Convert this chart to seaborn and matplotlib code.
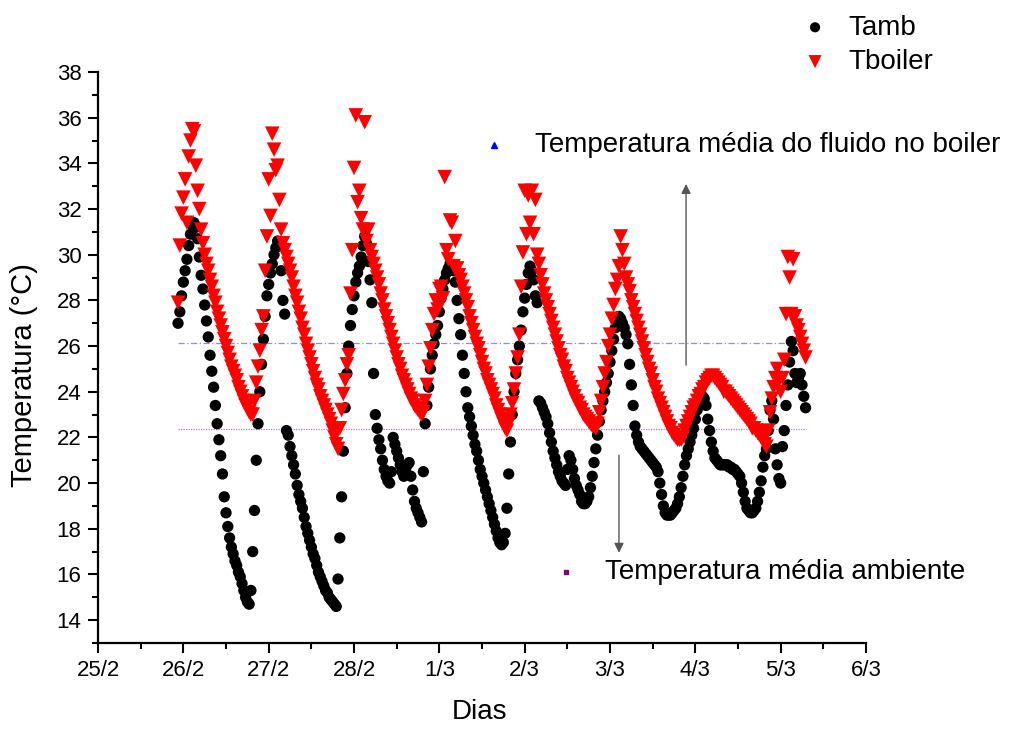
import numpy as np
import matplotlib
matplotlib.use("Agg")
import matplotlib.pyplot as plt
from matplotlib.ticker import MultipleLocator
import seaborn as sns

# ---- data ---------------------------------------------------------------
day_labels = ["25/2", "26/2", "27/2", "28/2", "1/3", "2/3", "3/3", "4/3", "5/3", "6/3"]

# logger: first sample at 25/2 22:30, one sample every 30 minutes
T_START = 0.9375        # days after 25/2 00:00
T_STEP = 1.0 / 48.0     # days

tamb = [
    27.0, 27.5, 28.2, 28.8, 29.3, 29.8, 30.4, 30.9, 31.3, 31.4,
    31.2, 30.7, 29.9, 29.1, 28.5, 27.8, 27.1, 26.4, 25.6, 24.9,
    24.2, 23.4, 22.6, 21.9, 21.2, 20.4, 19.4, 18.7, 18.1, 17.6,
    17.2, 16.9, 16.6, 16.4, 16.1, 15.9, 15.6, 15.3, 15.0, 14.8,
    14.7, 15.3, 17.0, 18.8, 21.0, 22.6, 24.0, 25.2, 26.3, 27.3,
    28.2, 28.7, 29.2, 29.6, 30.0, 30.3, 30.6, 30.4, 29.3, 28.0,
    27.4, 22.3, 22.1, 21.6, 21.2, 20.8, 20.4, 19.9, 19.5, 19.2,
    18.9, 18.5, 18.1, 17.8, 17.5, 17.2, 16.9, 16.7, 16.4, 16.1,
    15.9, 15.7, 15.5, 15.3, 15.2, 15.0, 14.9, 14.8, 14.7, 14.6,
    15.8, 17.6, 19.4, 21.4, 23.3, 24.8, 26.0, 26.9, 27.6, 28.2,
    28.8, 29.2, 29.5, 29.9, 30.4, 30.8, 30.5, 29.7, 28.9, 27.9,
    24.8, 23.0, 22.4, 21.9, 21.5, 21.0, 20.6, 20.3, 20.1, 20.0,
    20.5, 22.0, 21.7, 21.4, 21.1, 20.8, 20.5, 20.3, 20.6, 20.8,
    20.9, 20.3, 19.7, 19.2, 18.9, 18.7, 18.5, 18.3, 20.5, 22.6,
    23.4, 24.2, 25.0, 25.6, 26.1, 26.5, 26.9, 27.5, 28.1, 28.5,
    28.9, 29.2, 29.4, 29.6, 29.5, 29.3, 28.8, 28.0, 27.2, 26.5,
    25.6, 24.8, 24.0, 23.3, 22.9, 22.5, 22.1, 21.7, 21.4, 21.0,
    20.6, 20.3, 20.0, 19.7, 19.4, 19.1, 18.8, 18.5, 18.2, 17.9,
    17.6, 17.4, 17.3, 17.4, 17.8, 18.9, 20.4, 21.8, 23.0, 24.0,
    24.8, 25.4, 26.0, 26.7, 27.5, 28.1, 28.7, 29.2, 29.5, 29.3,
    28.9, 28.2, 27.9, 23.6, 23.5, 23.3, 23.1, 22.9, 22.6, 22.2,
    21.8, 21.4, 21.1, 20.8, 20.5, 20.3, 20.1, 20.0, 19.9, 20.6,
    21.2, 21.0, 20.6, 20.2, 19.9, 19.7, 19.5, 19.2, 19.1, 19.1,
    19.2, 19.4, 19.8, 20.3, 20.9, 21.5, 22.1, 22.7, 23.2, 23.6,
    24.0, 24.4, 24.8, 25.3, 25.8, 26.3, 26.8, 27.1, 27.3, 27.2,
    27.0, 26.8, 26.5, 26.1, 25.2, 24.3, 23.4, 22.5, 22.1, 21.8,
    21.6, 21.5, 21.4, 21.3, 21.2, 21.1, 21.0, 20.9, 20.8, 20.7,
    20.5, 20.0, 19.5, 19.0, 18.7, 18.6, 18.6, 18.6, 18.7, 18.8,
    18.9, 19.1, 19.4, 19.8, 20.3, 20.8, 21.2, 21.5, 21.8, 22.1,
    22.4, 22.8, 23.2, 23.5, 23.7, 23.8, 23.7, 23.4, 22.8, 22.3,
    21.8, 21.4, 21.1, 21.0, 20.9, 20.8, 20.8, 20.8, 20.8, 20.8,
    20.7, 20.7, 20.6, 20.6, 20.5, 20.4, 20.3, 20.0, 19.6, 19.2,
    18.9, 18.8, 18.7, 18.7, 18.8, 18.9, 19.2, 19.6, 20.1, 20.7,
    21.2, 21.5, 22.3, 23.2, 23.6, 22.8, 21.5, 20.8, 20.2, 20.0,
    21.6, 22.3, 23.4, 24.3, 25.3, 26.2, 25.8, 24.8, 24.4, 24.6,
    24.8, 24.3, 23.8, 23.3,
]

tboiler = [
    27.9, 30.4, 31.8, 32.5, 33.3, 31.4, 34.3, 35.0, 35.5, 35.4,
    33.9, 32.8, 32.0, 31.1, 30.5, 30.0, 29.6, 29.3, 28.9, 28.6,
    28.2, 27.9, 27.5, 27.2, 26.9, 26.6, 26.3, 26.0, 25.7, 25.4,
    25.1, 24.9, 24.7, 24.5, 24.2, 24.0, 23.8, 23.6, 23.4, 23.3,
    23.1, 23.0, 23.0, 23.6, 24.4, 25.1, 25.8, 26.7, 27.3, 29.3,
    30.8, 33.3, 31.7, 35.3, 34.6, 33.7, 33.9, 32.4, 31.1, 30.5,
    30.2, 29.9, 29.6, 29.3, 29.0, 28.6, 28.2, 27.9, 27.5, 27.2,
    26.8, 26.5, 26.1, 25.8, 25.5, 25.2, 24.9, 24.6, 24.3, 24.1,
    23.8, 23.6, 23.4, 23.2, 23.0, 22.8, 22.6, 22.3, 22.0, 21.7,
    21.5, 22.4, 23.2, 23.9, 24.5, 25.2, 25.6, 28.3, 30.2, 33.8,
    36.1, 32.3, 32.8, 31.6, 31.1, 35.8, 30.6, 31.1, 30.2, 29.9,
    29.6, 29.3, 29.0, 28.7, 28.3, 28.0, 27.6, 27.3, 27.0, 26.7,
    26.4, 26.1, 25.8, 25.5, 25.2, 25.0, 24.7, 24.5, 24.3, 24.1,
    23.9, 23.7, 23.6, 23.4, 23.3, 23.2, 23.1, 23.0, 23.1, 23.6,
    24.3, 25.1, 25.9, 26.7, 27.4, 28.0, 27.6, 28.5, 28.6, 28.1,
    33.4, 30.2, 29.8, 31.5, 31.4, 29.5, 30.6, 29.4, 29.1, 28.9,
    28.6, 28.3, 28.0, 27.7, 27.3, 27.0, 26.7, 26.4, 26.1, 25.9,
    25.6, 25.3, 25.0, 24.8, 24.5, 24.3, 24.1, 23.9, 23.7, 23.4,
    23.2, 23.0, 22.8, 22.6, 22.4, 22.3, 22.6, 23.0, 23.5, 24.1,
    24.8, 25.5, 26.5, 28.6, 30.1, 32.8, 30.9, 32.6, 31.4, 32.8,
    30.9, 32.4, 30.0, 29.6, 29.1, 28.7, 28.3, 28.0, 27.7, 27.4,
    27.1, 26.8, 26.5, 26.2, 25.9, 25.6, 25.4, 25.1, 24.9, 24.6,
    24.4, 24.2, 24.0, 23.8, 23.6, 23.5, 23.3, 23.2, 23.0, 22.9,
    22.8, 22.7, 22.6, 22.5, 22.5, 22.4, 22.6, 23.1, 23.6, 24.2,
    24.8, 25.3, 26.0, 26.5, 27.2, 27.8, 28.5, 28.9, 29.5, 30.8,
    30.2, 29.6, 29.0, 28.7, 28.4, 28.0, 27.7, 27.4, 27.1, 26.8,
    26.5, 26.2, 25.9, 25.6, 25.3, 25.0, 24.8, 24.5, 24.2, 24.0,
    23.7, 23.5, 23.3, 23.1, 22.9, 22.7, 22.5, 22.4, 22.2, 22.1,
    22.0, 21.9, 21.9, 21.9, 22.0, 22.3, 22.5, 22.7, 22.9, 23.1,
    23.3, 23.4, 23.6, 23.8, 23.9, 24.1, 24.2, 24.4, 24.5, 24.6,
    24.7, 24.7, 24.6, 24.5, 24.4, 24.3, 24.2, 24.0, 24.0, 23.9,
    23.8, 23.7, 23.6, 23.5, 23.4, 23.3, 23.2, 23.1, 23.0, 22.9,
    22.8, 22.7, 22.6, 22.4, 22.4, 22.3, 22.2, 22.1, 22.0, 21.9,
    21.7, 21.6, 22.3, 23.1, 23.7, 24.2, 24.6, 25.0, 24.5, 24.0,
    24.6, 25.4, 27.4, 29.9, 29.0, 27.4, 29.8, 27.3, 26.9, 26.7,
    26.4, 26.1, 25.8, 25.5,
]

mean_boiler = 26.14   # mean fluid temperature in the boiler
mean_amb = 22.36      # mean ambient temperature

label_boiler_mean = "Temperatura média do fluido no boiler"
label_amb_mean = "Temperatura média ambiente"

# ---- figure -------------------------------------------------------------
sns.set_style("ticks")
plt.rcParams["font.family"] = ["Liberation Sans", "DejaVu Sans"]
plt.rcParams["text.color"] = "black"
plt.rcParams["axes.labelcolor"] = "black"
plt.rcParams["xtick.color"] = "black"
plt.rcParams["ytick.color"] = "black"

fig = plt.figure(figsize=(10.18, 7.29), dpi=100)
ax = fig.add_axes([0.0963, 0.118, 0.7544, 0.7832])

t = T_START + np.arange(len(tamb)) * T_STEP
t_b = T_START + np.arange(len(tboiler)) * T_STEP

sns.scatterplot(x=t, y=tamb, ax=ax, color="black", marker="o", s=66,
                edgecolor="none", linewidth=0, label="Tamb", zorder=3)
sns.scatterplot(x=t_b, y=tboiler, ax=ax, color="#ff0000", marker="v", s=110,
                edgecolor="none", linewidth=0, label="Tboiler", zorder=4)

# mean reference lines
ax.plot([t[0], t[-1] - 0.1], [mean_boiler, mean_boiler], color="#8c8cf0",
        lw=0.9, linestyle=(0, (5, 2, 1, 2)), zorder=2)
ax.plot([t[0], t[-1]], [mean_amb, mean_amb], color="#b080c8",
        lw=0.9, linestyle=(0, (1, 1)), zorder=2)

# arrows pointing at the two mean lines' captions
ax.annotate("", xy=(6.891, 33.1), xytext=(6.891, 25.17),
            arrowprops=dict(arrowstyle="-|>", color="#555555", lw=1.0,
                            mutation_scale=14, shrinkA=0, shrinkB=0))
ax.annotate("", xy=(6.105, 16.95), xytext=(6.105, 21.22),
            arrowprops=dict(arrowstyle="-|>", color="#555555", lw=1.0,
                            mutation_scale=14, shrinkA=0, shrinkB=0))

# captions with their small symbols
ax.plot([4.641], [34.8], marker="^", color="#0000ff", ms=5, clip_on=False,
        linestyle="none")
ax.text(5.121, 34.8, label_boiler_mean, fontsize=20, va="center", ha="left")
ax.plot([5.485], [16.1], marker="s", color="#800080", ms=3, clip_on=False,
        linestyle="none")
ax.text(5.942, 16.1, label_amb_mean, fontsize=20, va="center", ha="left")

# axes
ax.set_xlim(0, 9)
ax.set_ylim(13, 38)
ax.set_xticks(range(len(day_labels)))
ax.set_xticklabels(day_labels)
ax.xaxis.set_minor_locator(MultipleLocator(0.5))
ax.set_yticks(np.arange(14, 39, 2))
ax.yaxis.set_minor_locator(MultipleLocator(1))
ax.tick_params(axis="both", which="major", direction="out", length=7,
               width=1.5, labelsize=16, color="black", labelcolor="black")
ax.tick_params(axis="x", which="major", pad=5)
ax.tick_params(axis="y", which="major", pad=5)
ax.tick_params(axis="both", which="minor", direction="out", length=4,
               width=1.5, color="black")
for side in ("top", "right"):
    ax.spines[side].set_visible(False)
for side in ("left", "bottom"):
    ax.spines[side].set_linewidth(1.6)
    ax.spines[side].set_color("black")

ax.set_xlabel("Dias", fontsize=20)
ax.set_ylabel("Temperatura (°C)", fontsize=21)
ax.xaxis.set_label_coords(0.497, -0.098)
ax.yaxis.set_label_coords(-0.078, 0.47)

handles, labels = ax.get_legend_handles_labels()
ax.legend(handles, labels, loc="upper left", bbox_to_anchor=(0.787, 0.98),
          bbox_transform=fig.transFigure, frameon=False, fontsize=20,
          handlelength=1.0, handletextpad=0.7, labelspacing=0.3,
          borderpad=0, borderaxespad=0, markerscale=0.9)

fig.savefig("out.png", dpi=100)
